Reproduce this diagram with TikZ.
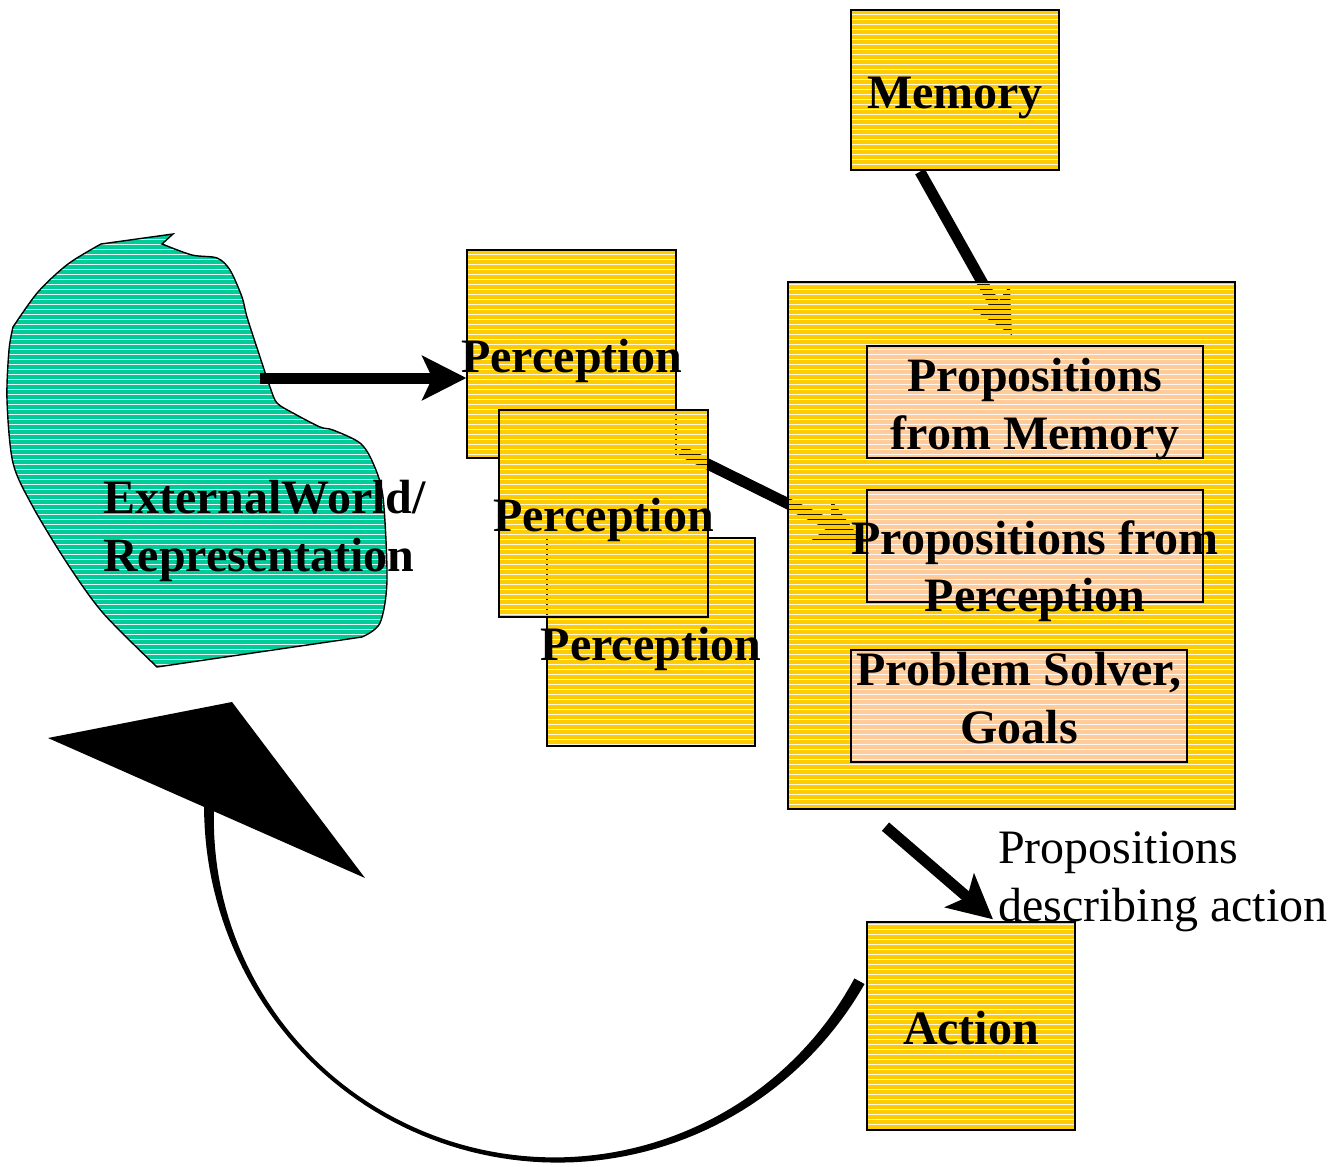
\documentclass[tikz,border=0pt]{standalone}
\usepackage{fontspec}
\setmainfont{Liberation Serif}
\usetikzlibrary{arrows.meta,calc}
\pgfdeclarelayer{back}
\pgfsetlayers{back,main}
\definecolor{boxyellow}{HTML}{FFCC00}
\definecolor{worldgreen}{HTML}{00CC99}
\definecolor{peach}{HTML}{FFCC99}
\newcommand\bigtype{\fontsize{48}{57.5}\selectfont}
\newcommand\wide[1]{\makebox[0pt]{#1}}
\tikzset{
  % horizontal stripes on one page-wide grid, the gaps left see-through
  stripes/.style={path picture={
      \fill[#1] \foreach \k in {0,...,233}
        {([yshift={-\k*5pt}]origin) rectangle ++(1336,4)};}},
  yellowbox/.style={draw=black, line width=1.3pt, stripes=boxyellow, inner sep=0pt,
      text height=40pt, text depth=4pt, font=\bfseries\bigtype},
  bigbox/.style={draw=black, line width=1.3pt, stripes=boxyellow, inner sep=0pt},
  innerbox/.style={draw=black, line width=1.3pt, fill=white, stripes=peach, inner sep=0pt,
      minimum width=336pt, minimum height=112pt},
  boxtext/.style={inner sep=0pt, font=\bfseries\bigtype, align=center, anchor=north},
  conn/.style={line width=11pt, -{Stealth[length=44pt,width=44pt,inset=10pt]}},
}
\begin{document}
\begin{tikzpicture}[x=1pt,y=-1pt]
\useasboundingbox (0,0) rectangle (1336,1167);
\coordinate (origin) at (0,0);

% the external world
\path[draw=black, line width=1.4pt, stripes=worldgreen]
  (173,234) -- (162,244)
  -- plot[smooth, tension=0.5] coordinates {(162,244) (192,255) (217,258) (230,270) (242,297)
       (247,317) (260,357) (270,387) (277,403) (293,413) (320,427) (333,430) (360,443)
       (373,463) (383,497) (387,580) (380,623) (362,637)}
  -- (157,667)
  -- plot[smooth, tension=0.5] coordinates {(157,667) (103,613) (67,563) (33,507) (13,463)
       (7,400) (9,350) (13,327)}
  -- plot[smooth, tension=0.5] coordinates {(13,327) (38,292) (68,264) (101,244)}
  -- cycle;
\node[inner sep=0pt, font=\bfseries\bigtype, align=left, anchor=north west] (worldtext)
  at (103,480) {ExternalWorld/\\Representation};
\coordinate (wout) at (260,378);

% feedback loop from action back to the world
\fill[shift={(556,813)}]
  plot[domain=29:181, samples=90] (\x:{347+0.5*(4+(\x<130 ? 0.00075 : 0.0023)*(\x-130)^2)})
  -- plot[domain=181:29, samples=90] (\x:{347-0.5*(4+(\x<130 ? 0.00075 : 0.0023)*(\x-130)^2)})
  -- cycle;
\fill (48,738) -- (232,702) -- (365,878) -- cycle;

% boxes
\node[yellowbox, minimum width=208pt, minimum height=160pt] (mem) at (955,90) {\wide{Memory}};
\node[yellowbox, minimum width=209pt, minimum height=208pt] (p1) at (571.5,354) {\wide{Perception}};
\node[yellowbox, minimum width=208pt, minimum height=208pt] (p3) at (651,642) {\wide{Perception}};
\node[yellowbox, minimum width=209pt, minimum height=207pt] (p2) at (603.5,513.5) {\wide{Perception}};
\node[bigbox, minimum width=447pt, minimum height=527pt] (big) at (1011.5,545.5) {};
\node[innerbox] (boxA) at (1035,402) {};
\node[innerbox] (boxB) at (1035,546) {};
\node[innerbox] (boxC) at (1019,706) {};
\node[yellowbox, minimum width=208pt, minimum height=208pt] (action) at (971,1026) {\wide{Action}};

\node[boxtext] (txA) at (1035,358) {Propositions\\from Memory};
\node[boxtext] (txB) at (1035,520) {Propositions from\\Perception};
\node[boxtext] (txC) at (1019,652) {Problem Solver,\\Goals};

\node[inner sep=0pt, font=\bigtype, align=left, anchor=north west] (note)
  at (998,832) {Propositions\\describing action};

% connectors
\begin{pgfonlayer}{back}
  \draw[conn] ($(mem.south)+(-35,1)$) -- ($(boxA.north)+(-23,-10)$);
  \draw[conn] ($(p1.south east)+(4,-8)$) -- ($(boxB.west)+(-5,-6)$);
\end{pgfonlayer}
\draw[conn] (wout) -- (wout -| p1.west);
\draw[conn] ($(big.south)+(-126,17)$) -- ($(action.north)+(22,-2)$);
\end{tikzpicture}
\end{document}
